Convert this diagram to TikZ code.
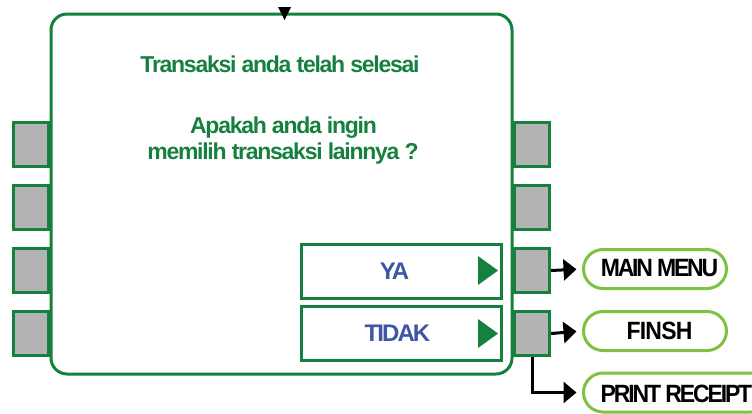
\documentclass[tikz,border=0pt]{standalone}
\usepackage{fontspec}
\setmainfont{Liberation Sans}
\usetikzlibrary{arrows.meta,shapes.misc}
\definecolor{frameg}{RGB}{22,128,62}
\definecolor{lightg}{RGB}{125,194,66}
\definecolor{btnblue}{RGB}{61,86,166}
\definecolor{btngray}{RGB}{179,179,179}
\tikzset{
  sidebtn/.style={draw=frameg, fill=btngray, line width=3pt, minimum width=35pt, minimum height=44pt, inner sep=0pt},
  optbox/.style={draw=frameg, fill=white, line width=3pt, minimum width=200pt, minimum height=54pt, inner sep=0pt},
  msg/.style={text=frameg, font=\bfseries\fontsize{23}{26}\selectfont\addfontfeature{LetterSpace=-5.5}, anchor=base, inner sep=0pt},
  opttext/.style={text=btnblue, font=\bfseries\fontsize{24}{28}\selectfont\addfontfeature{LetterSpace=-8}, anchor=base, inner sep=0pt},
  oval/.style={draw=lightg, fill=white, line width=3pt, rounded rectangle, minimum height=39pt, inner sep=0pt},
  ovaltext/.style={text=black, font=\bfseries\fontsize{25}{28}\selectfont, anchor=base, inner sep=0pt},
  arr/.style={draw=black, line width=3pt, -{Triangle[length=13pt,width=21pt]}, shorten >=5.5pt},
}
\begin{document}
\begin{tikzpicture}[x=1pt,y=-1pt]
\useasboundingbox (0,0) rectangle (752,413);
% main frame
\draw[frameg, line width=3pt, rounded corners=16pt] (51,14) rectangle (512,374);
\fill[black] (278,7) -- (291,7) -- (284.5,20) -- cycle;
% side buttons
\node[sidebtn] (l1) at (30.5,144) {};
\node[sidebtn] (l2) at (30.5,207.5) {};
\node[sidebtn] (l3) at (30.5,270.5) {};
\node[sidebtn] (l4) at (30.5,333.5) {};
\node[sidebtn] (r1) at (532,144) {};
\node[sidebtn] (r2) at (532,207.5) {};
\node[sidebtn] (r3) at (532,270.5) {};
\node[sidebtn] (r4) at (532,333.5) {};
% messages
\node[msg] (m1) at (280,72) {Transaksi anda telah selesai};
\node[msg] (m2) at (283.5,133) {Apakah anda ingin};
\node[msg] (m3) at (283,159) {memilih transaksi lainnya ?};
% option boxes
\node[optbox] (ya) at (401.5,271.5) {};
\node[optbox] (tidak) at (401.5,333.5) {};
\node[opttext] (yat) at (394.5,279) {YA};
\node[opttext] (tidakt) at (397.5,341) {TIDAK};
\fill[frameg] (478,256) -- (478,285) -- (498,270.5) -- cycle;
\fill[frameg] (478,319) -- (478,348) -- (498,333.5) -- cycle;
% result ovals
\node[oval, minimum width=143pt] (mm) at (655,269) {};
\node[oval, minimum width=143pt] (fin) at (655,331) {};
\node[oval, minimum width=187pt] (pr) at (677,392.5) {};
\node[ovaltext] (mmt) at (659.5,276) {\scalebox{0.92}[1]{\addfontfeature{LetterSpace=-9.7}MAIN MENU}};
\node[ovaltext] (fint) at (659.5,339) {\scalebox{0.92}[1]{\addfontfeature{LetterSpace=-3.5}FINSH}};
\node[ovaltext] (prt) at (676.5,402) {\scalebox{0.92}[1]{\addfontfeature{LetterSpace=-9.3}PRINT RECEIPT}};
% connectors
\draw[arr] (r3.east) -- (mm.west);
\draw[arr] (r4.east) -- (fin.west);
\draw[arr] (r4.south) |- (pr.west);
\end{tikzpicture}
\end{document}
